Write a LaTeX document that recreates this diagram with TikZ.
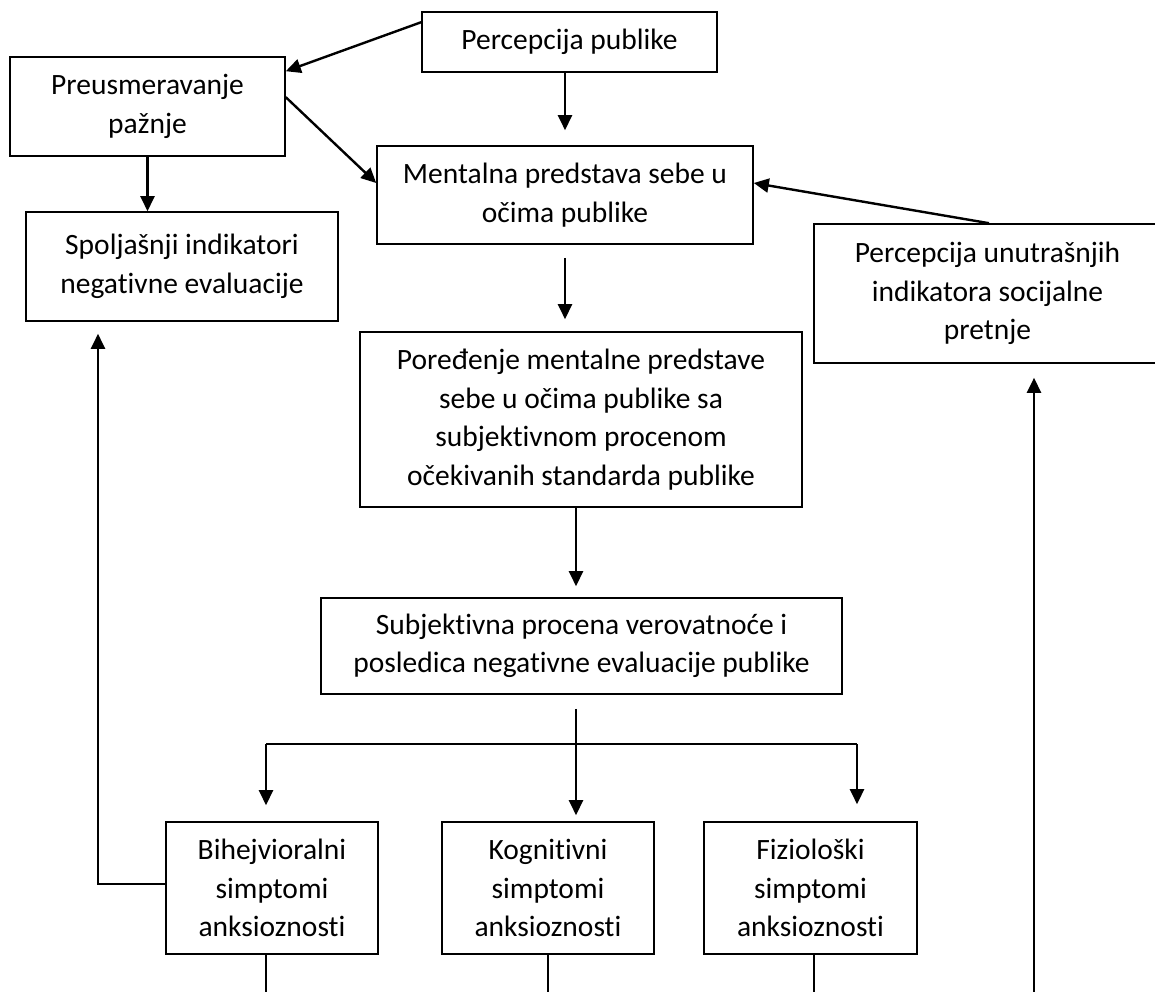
\documentclass[tikz,border=0pt]{standalone}
\usepackage{fontspec}
\setmainfont{Carlito}[RawFeature={-liga}]
\usetikzlibrary{arrows.meta,calc}
\begin{document}
\begin{tikzpicture}[x=1pt,y=-1pt,
  box/.style={draw, line width=1.6pt, align=center, inner sep=0pt,
    font=\fontsize{29.5}{38.5}\selectfont},
  arr/.style={line width=2.4pt, -{Triangle[length=15pt,width=14pt]}},
  ln/.style={line width=2.4pt},
  thinln/.style={line width=1.2pt}]
\useasboundingbox (0,0) rectangle (1155,991);
\clip (0,0) rectangle (1155,991);
% nodes
\node[box, minimum width=295pt, minimum height=60pt] (PP) at (569.5,42) {Percepcija publike};
\node[box, minimum width=275pt, minimum height=99pt] (PR) at (147.5,106.5) {Preusmeravanje\\pažnje};
\node[box, minimum width=312pt, minimum height=109pt] (SI) at (182,266.5) {Spoljašnji indikatori\\negativne evaluacije};
\node[box, minimum width=376pt, minimum height=98pt] (MP) at (565,195) {Mentalna predstava sebe u\\očima publike};
\node[box, minimum width=347pt, minimum height=139pt] (PU) at (987.5,293.5) {Percepcija unutrašnjih\\indikatora socijalne\\pretnje};
\node[box, minimum width=442pt, minimum height=175pt] (PO) at (581,419.5) {Poređenje mentalne predstave\\sebe u očima publike sa\\subjektivnom procenom\\očekivanih standarda publike};
\node[box, minimum width=521pt, minimum height=96pt] (SP) at (581.5,646) {Subjektivna procena verovatnoće i\\posledica negativne evaluacije publike};
\node[box, minimum width=212pt, minimum height=132pt] (BI) at (272,888) {Bihejvioralni\\simptomi\\anksioznosti};
\node[box, minimum width=212pt, minimum height=132pt] (KO) at (548,888) {Kognitivni\\simptomi\\anksioznosti};
\node[box, minimum width=213pt, minimum height=132pt] (FI) at (810.5,888) {Fiziološki\\simptomi\\anksioznosti};
% helper coordinates
\coordinate (bl) at (266,744);
\coordinate (br) at (857,744);
\coordinate (rb) at (1034,1000);
% connectors
\draw[arr] ([yshift=-11pt]PP.north west) -- ([yshift=-15pt]PR.north east);
\draw[arr] (PP.south -| MP.north) -- ([yshift=15pt]MP.north);
\draw[arr] ([yshift=-41pt]PR.north east) -- ([yshift=12pt]MP.west);
\draw[arr] (PR.south) -- (PR.south |- SI.north);
\draw[arr] ([yshift=-13pt]MP.south) -- ([yshift=12pt]MP.south |- PO.north);
\draw[arr] ([xshift=1.5pt]PU.north) -- ([yshift=12pt]MP.east);
\draw[arr] ([xshift=-5pt]PO.south) -- ([xshift=-5pt,yshift=11pt]PO.south |- SP.north);
\draw[arr] ([xshift=-5.5pt,yshift=-14pt]SP.south) -- ([xshift=-5.5pt,yshift=6pt]SP.south |- KO.north);
\draw[ln] (bl) -- (br);
\draw[arr] (bl) -- ([yshift=16pt]bl |- BI.north);
\draw[arr] (br) -- ([yshift=17pt]br |- FI.north);
\draw[arr] ([yshift=4pt]BI.west) -| ([xshift=-84pt,yshift=-12pt]SI.south);
\draw[arr] (rb) -- ([yshift=-14pt]rb |- PU.south);
\draw[thinln] ([xshift=-6pt]BI.south) -- ++(0,50);
\draw[thinln] (KO.south) -- ++(0,50);
\draw[thinln] ([xshift=3.5pt]FI.south) -- ++(0,50);
\end{tikzpicture}
\end{document}
